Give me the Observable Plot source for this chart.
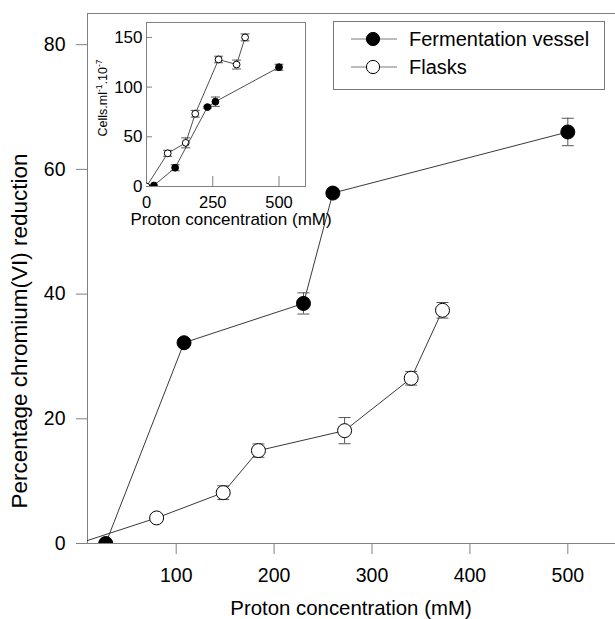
<!DOCTYPE html>
<html><head><meta charset="utf-8">
<script src="https://cdn.jsdelivr.net/npm/d3@7"></script>
<script src="https://cdn.jsdelivr.net/npm/@observablehq/plot@0.6"></script>
<style>
body{margin:0;background:#fff;}
#chart{position:relative;width:615px;height:619px;font-family:"Liberation Sans",Arial,Helvetica,sans-serif;}
#chart svg{position:absolute;}
</style></head><body><div id="chart"></div>
<script>
// ---- data ----
const seriesNames = ["Fermentation vessel", "Flasks"];
const protonFerm = [28, 108, 230, 260, 500];
const reductionFerm = [0, 32.2, 38.5, 56.2, 66];
const reductionFermErr = [0, 0.5, 1.7, 0.5, 2.2];
const protonFlask = [0, 80, 148, 184, 272, 340, 372];
const reductionFlask = [0, 4.1, 8.15, 14.9, 18.1, 26.5, 37.4];
const reductionFlaskErr = [0, 0.5, 1.1, 1.07, 2.1, 1.1, 1.25];
const cellsFerm = [1, 18.9, 79.9, 85.3, 120];
const cellsFermErr = [0, 3, 1, 4.7, 3];
const cellsFlask = [0, 33.4, 43.9, 73.2, 127.8, 122.7, 150];
const cellsFlaskErr = [0, 3, 5, 3.4, 3.3, 4.5, 3.5];
const mainXTicks = [100, 200, 300, 400, 500];
const mainYTicks = [0, 20, 40, 60, 80];
const insetXTicks = [0, 250, 500];
const insetYTicks = [0, 50, 100, 150];
const mainXDomain = [9.4, 548.7];
const mainYDomain = [0, 85];
const insetXDomain = [0, 600];
const insetYDomain = [0, 165];

const rows = (xs, ys, es) => xs.map((x, i) => ({x, y: ys[i], e: es[i]}));
const fermMain = rows(protonFerm, reductionFerm, reductionFermErr);
const flaskMain = rows(protonFlask, reductionFlask, reductionFlaskErr);
const fermInset = rows(protonFerm, cellsFerm, cellsFermErr);
const flaskInset = rows(protonFlask, cellsFlask, cellsFlaskErr);

const capSymbol = {draw(ctx, size) { const r = Math.sqrt(size / Math.PI); ctx.moveTo(-r, 0); ctx.lineTo(r, 0); }};
const FONT = '"Liberation Sans",Arial,Helvetica,sans-serif';
const AXIS = "#808080", LINE = "#222", ERR = "#555";

function seriesMarks(data, filled, r, capR, lw) {
  const withErr = data.filter(d => d.e > 0);
  return [
    Plot.line(data, {x: "x", y: "y", stroke: LINE, strokeWidth: lw, clip: true}),
    Plot.ruleX(withErr, {x: "x", y1: d => d.y - d.e, y2: d => d.y + d.e, stroke: ERR, strokeWidth: 1, clip: true}),
    Plot.dot(withErr, {x: "x", y: d => d.y - d.e, symbol: capSymbol, r: capR, stroke: ERR, strokeWidth: 1, clip: true}),
    Plot.dot(withErr, {x: "x", y: d => d.y + d.e, symbol: capSymbol, r: capR, stroke: ERR, strokeWidth: 1, clip: true}),
    Plot.dot(data, {x: "x", y: "y", r, fill: filled ? "#000" : "#fff", stroke: "#000", strokeWidth: 1, clip: true})
  ];
}

const chart = document.getElementById("chart");

// ---- main plot ----
const main = Plot.plot({
  width: 615, height: 619,
  marginLeft: 87, marginRight: 0, marginTop: 13, marginBottom: 76,
  style: {fontFamily: FONT, color: "#000", background: "transparent", overflow: "visible"},
  x: {domain: mainXDomain},
  y: {domain: mainYDomain},
  marks: [
    Plot.ruleY([mainYDomain[1]], {stroke: AXIS}),
    Plot.ruleX([mainXDomain[0]], {stroke: AXIS}),
    Plot.ruleY([0], {stroke: AXIS}),
    Plot.axisX({ticks: mainXTicks, tickSize: 11, tickPadding: 14, stroke: AXIS, fill: "#000", fontSize: 19.5, label: null}),
    Plot.axisY({ticks: mainYTicks, tickSize: 11, tickPadding: 11, stroke: AXIS, fill: "#000", fontSize: 19.5, label: null}),
    ...seriesMarks(flaskMain, false, 7, 6, 0.9),
    ...seriesMarks(fermMain, true, 7, 6, 0.9)
  ]
});
main.style.left = "0px"; main.style.top = "0px";
const ms = d3.select(main);
ms.append("text").attr("x", 351).attr("y", 615).attr("text-anchor", "middle")
  .attr("font-size", 20.4).attr("font-family", FONT).attr("fill", "#000").text("Proton concentration (mM)");
ms.append("text").attr("transform", "translate(27,331) rotate(-90)").attr("text-anchor", "middle")
  .attr("font-size", 22.5).attr("font-family", FONT).attr("fill", "#000").text("Percentage chromium(VI) reduction");
chart.appendChild(main);

// ---- inset ----
const inset = Plot.plot({
  width: 250, height: 225,
  marginLeft: 56, marginRight: 35, marginTop: 12, marginBottom: 49,
  style: {fontFamily: FONT, color: "#000", background: "transparent", overflow: "visible"},
  x: {domain: insetXDomain},
  y: {domain: insetYDomain},
  marks: [
    Plot.frame({stroke: AXIS}),
    Plot.axisY({ticks: insetYTicks, tickSize: 6, dx: 6, tickFormat: () => "", stroke: AXIS, label: null}),
    Plot.axisY({ticks: insetYTicks, tickSize: 0, tickPadding: 4, fill: "#000", fontSize: 17, label: null}),
    Plot.axisX({ticks: insetXTicks, tickSize: 10, dy: -10, tickFormat: () => "", stroke: AXIS, label: null}),
    Plot.axisX({ticks: insetXTicks, tickSize: 0, tickPadding: 10, fill: "#000", fontSize: 16.5, label: null}),
    ...seriesMarks(flaskInset, false, 3.4, 4.5, 0.8),
    ...seriesMarks(fermInset, true, 3.4, 4.5, 0.8)
  ]
});
inset.style.left = "90px"; inset.style.top = "10px";
const is = d3.select(inset);
is.append("text").attr("x", 141).attr("y", 215).attr("text-anchor", "middle")
  .attr("font-size", 17).attr("font-family", FONT).attr("fill", "#000").text("Proton concentration (mM)");
const yl = is.append("text").attr("transform", "translate(16.5,88) rotate(-90)").attr("text-anchor", "middle")
  .attr("font-size", 12.5).attr("font-family", FONT).attr("fill", "#000");
yl.append("tspan").text("Cells.ml");
yl.append("tspan").attr("font-size", 8.5).attr("dy", -5).text("-1");
yl.append("tspan").attr("dy", 5).text(".10");
yl.append("tspan").attr("font-size", 8.5).attr("dy", -5).text("-7");
chart.appendChild(inset);

// ---- legend ----
const leg = d3.create("svg").attr("width", 272).attr("height", 69)
  .style("left", "333px").style("top", "21px");
leg.append("rect").attr("x", 0.5).attr("y", 0.5).attr("width", 271).attr("height", 68)
  .attr("fill", "#fff").attr("stroke", "#777");
seriesNames.forEach((name, i) => {
  const cy = i === 0 ? 18 : 46;
  const g = leg.append("g");
  g.append("line").attr("x1", 18).attr("x2", 64).attr("y1", cy).attr("y2", cy).attr("stroke", "#555").attr("stroke-width", 0.8);
  g.append("circle").attr("cx", 40).attr("cy", cy).attr("r", 6.6)
    .attr("fill", i === 0 ? "#000" : "#fff").attr("stroke", "#000");
  g.append("text").attr("x", 76).attr("y", cy + 7).attr("font-size", 20).attr("font-family", FONT)
    .attr("fill", "#000").text(name);
});
chart.appendChild(leg.node());
</script></body></html>
